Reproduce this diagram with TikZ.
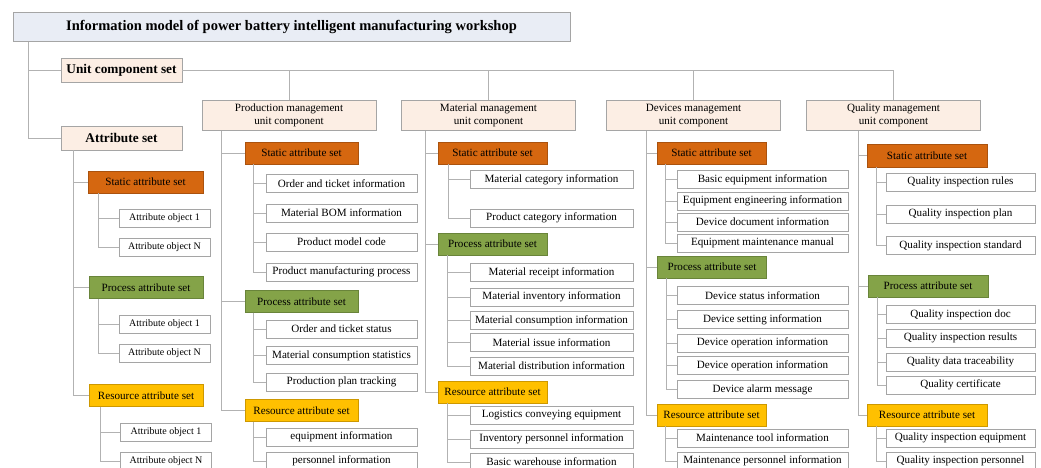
\documentclass[tikz,border=0pt]{standalone}
\usepackage{fontspec}
\setmainfont{Liberation Serif}
\definecolor{linegray}{RGB}{178,178,178}
\definecolor{boxgray}{RGB}{165,165,165}
\definecolor{titlefill}{RGB}{233,237,245}
\definecolor{compfill}{RGB}{252,238,228}
\definecolor{statfill}{RGB}{213,103,16}
\definecolor{statline}{RGB}{170,82,14}
\definecolor{procfill}{RGB}{132,163,72}
\definecolor{procline}{RGB}{105,132,58}
\definecolor{resfill}{RGB}{255,192,0}
\definecolor{resline}{RGB}{205,152,0}
\tikzset{
  link/.style={draw=linegray, line width=0.8pt},
  topbox/.style={draw=boxgray, fill=titlefill, minimum height=29pt, font=\fontsize{14.5}{16}\selectfont\bfseries},
  setbox/.style={draw=boxgray, fill=compfill, minimum width=121pt, minimum height=24pt, font=\fontsize{13.3}{15}\selectfont\bfseries},
  compbox/.style={draw=boxgray, fill=compfill, minimum width=174pt, minimum height=27pt, align=center, font=\fontsize{11.1}{13.3}\selectfont},
  staticset/.style={draw=statline, fill=statfill, minimum height=22pt, inner sep=1pt, font=\fontsize{11.1}{13}\selectfont},
  processset/.style={draw=procline, fill=procfill, minimum height=22pt, inner sep=1pt, font=\fontsize{11.1}{13}\selectfont},
  resourceset/.style={draw=resline, fill=resfill, minimum height=22pt, inner sep=1pt, font=\fontsize{11.1}{13}\selectfont},
  itembox/.style={draw=boxgray, fill=white, minimum height=18pt, inner sep=1pt, font=\fontsize{11.1}{13}\selectfont},
  objbox/.style={itembox, minimum width=91pt, font=\fontsize{10}{12}\selectfont},
}
\begin{document}
\begin{tikzpicture}[x=1pt,y=-1pt]
  \useasboundingbox (0,0) rectangle (1041,467);

  % Title and the two top sets
  \node[topbox, minimum width=557pt] (model) at (291.5,27) {Information model of power battery intelligent manufacturing workshop};
  \node[setbox] (unitset) at (121.5,70) {Unit component set};
  \node[setbox] (attrset) at (121.5,138) {Attribute set};
  \coordinate (mtrunk) at ([xshift=16pt]model.south west);
  \draw[link] (mtrunk) |- (unitset.west) (mtrunk) |- (attrset.west);

  % Unit components
  \node[compbox] (prodcomp) at (289,115.5) {Production management\\unit component};
  \node[compbox] (matcomp) at (488.5,115.5) {Material management\\unit component};
  \node[compbox] (devcomp) at (693.5,115.5) {Devices management\\unit component};
  \node[compbox] (qualcomp) at (893.5,115.5) {Quality management\\unit component};
  \draw[link] (unitset.east) -| (qualcomp.north);
  \draw[link] (prodcomp.north) -- (prodcomp.north |- unitset.east);
  \draw[link] (matcomp.north) -- (matcomp.north |- unitset.east);
  \draw[link] (devcomp.north) -- (devcomp.north |- unitset.east);

  % Attribute set column
  \node[staticset, minimum width=115pt] (ls) at (145.5,182) {Static attribute set};
  \node[objbox] (ls1) at (164.5,218) {Attribute object 1};
  \node[objbox] (ls2) at (164.5,247.5) {Attribute object N};
  \node[processset, minimum width=114pt] (lp) at (146,287.5) {Process attribute set};
  \node[objbox] (lp1) at (164.5,324) {Attribute object 1};
  \node[objbox] (lp2) at (164.5,353.5) {Attribute object N};
  \node[resourceset, minimum width=114pt] (lr) at (146,395.5) {Resource attribute set};
  \node[objbox] (lr1) at (166,432.5) {Attribute object 1};
  \node[objbox] (lr2) at (166,461.5) {Attribute object N};
  \coordinate (atrunk) at ([xshift=13pt]attrset.south west);
  \draw[link] (atrunk) |- (ls.west) (atrunk) |- (lp.west) (atrunk) |- (lr.west);
  \coordinate (lst) at ([xshift=11pt]ls.south west);
  \coordinate (lpt) at ([xshift=10pt]lp.south west);
  \coordinate (lrt) at ([xshift=12pt]lr.south west);
  \draw[link] (lst) |- (ls1.west) (lst) |- (ls2.west);
  \draw[link] (lpt) |- (lp1.west) (lpt) |- (lp2.west);
  \draw[link] (lrt) |- (lr1.west) (lrt) |- (lr2.west);

  % Production management
  \node[staticset, minimum width=113pt] (pst) at (301.5,153) {Static attribute set};
  \node[itembox, minimum width=151pt] (pst1) at (341.5,183.5) {Order and ticket information};
  \node[itembox, minimum width=151pt] (pst2) at (341.5,213) {Material BOM information};
  \node[itembox, minimum width=151pt] (pst3) at (341.5,242) {Product model code};
  \node[itembox, minimum width=151pt] (pst4) at (341.5,272) {Product manufacturing process};
  \node[processset, minimum width=113pt] (ppr) at (301.5,301.5) {Process attribute set};
  \node[itembox, minimum width=151pt] (ppr1) at (341.5,329) {Order and ticket status};
  \node[itembox, minimum width=151pt] (ppr2) at (341.5,355.5) {Material consumption statistics};
  \node[itembox, minimum width=151pt] (ppr3) at (341.5,382) {Production plan tracking};
  \node[resourceset, minimum width=113pt] (prs) at (301.5,410.5) {Resource attribute set};
  \node[itembox, minimum width=151pt] (prs1) at (341.5,437) {equipment information};
  \node[itembox, minimum width=151pt] (prs2) at (341.5,461) {personnel information};
  \coordinate (ptrunk) at ([xshift=20pt]prodcomp.south west);
  \draw[link] (ptrunk) |- (pst.west) (ptrunk) |- (ppr.west) (ptrunk) |- (prs.west);
  \coordinate (pstt) at ([xshift=9pt]pst.south west);
  \coordinate (pprt) at ([xshift=9pt]ppr.south west);
  \coordinate (prst) at ([xshift=9pt]prs.south west);
  \foreach \i in {1,...,4} \draw[link] (pstt) |- (pst\i.west);
  \foreach \i in {1,...,3} \draw[link] (pprt) |- (ppr\i.west);
  \foreach \i in {1,2} \draw[link] (prst) |- (prs\i.west);

  % Material management
  \node[staticset, minimum width=109pt] (mst) at (492.5,153) {Static attribute set};
  \node[itembox, minimum width=163pt] (mst1) at (551.5,179.5) {Material category information};
  \node[itembox, minimum width=163pt] (mst2) at (551.5,218) {Product category information};
  \node[processset, minimum width=109pt] (mpr) at (492.5,244) {Process attribute set};
  \node[itembox, minimum width=163pt] (mpr1) at (551.5,272.5) {Material receipt information};
  \node[itembox, minimum width=163pt] (mpr2) at (551.5,297) {Material inventory information};
  \node[itembox, minimum width=163pt] (mpr3) at (551.5,320.5) {Material consumption information};
  \node[itembox, minimum width=163pt] (mpr4) at (551.5,342.5) {Material issue information};
  \node[itembox, minimum width=163pt] (mpr5) at (551.5,366) {Material distribution information};
  \node[resourceset, minimum width=109pt] (mrs) at (492.5,392) {Resource attribute set};
  \node[itembox, minimum width=163pt] (mrs1) at (551.5,415) {Logistics conveying equipment};
  \node[itembox, minimum width=163pt] (mrs2) at (551.5,439) {Inventory personnel information};
  \node[itembox, minimum width=163pt] (mrs3) at (551.5,462) {Basic warehouse information};
  \coordinate (mtrunk) at ([xshift=24pt]matcomp.south west);
  \draw[link] (mtrunk) |- (mst.west) (mtrunk) |- (mpr.west) (mtrunk) |- (mrs.west);
  \coordinate (mstt) at ([xshift=11pt]mst.south west);
  \coordinate (mprt) at ([xshift=10pt]mpr.south west);
  \coordinate (mrst) at ([xshift=10pt]mrs.south west);
  \foreach \i in {1,2} \draw[link] (mstt) |- (mst\i.west);
  \foreach \i in {1,...,5} \draw[link] (mprt) |- (mpr\i.west);
  \foreach \i in {1,...,3} \draw[link] (mrst) |- (mrs\i.west);

  % Devices management
  \node[staticset, minimum width=109pt] (dst) at (711.5,153) {Static attribute set};
  \node[itembox, minimum width=171pt] (dst1) at (762.5,179.5) {Basic equipment information};
  \node[itembox, minimum width=171pt] (dst2) at (762.5,201) {Equipment engineering information};
  \node[itembox, minimum width=171pt] (dst3) at (762.5,222) {Device document information};
  \node[itembox, minimum width=171pt] (dst4) at (762.5,243) {Equipment maintenance manual};
  \node[processset, minimum width=109pt] (dpr) at (712,267) {Process attribute set};
  \node[itembox, minimum width=171pt] (dpr1) at (762.5,295.5) {Device status information};
  \node[itembox, minimum width=171pt] (dpr2) at (762.5,319.5) {Device setting information};
  \node[itembox, minimum width=171pt] (dpr3) at (762.5,343) {Device operation information};
  \node[itembox, minimum width=171pt] (dpr4) at (762.5,365.5) {Device operation information};
  \node[itembox, minimum width=171pt] (dpr5) at (762.5,389.5) {Device alarm message};
  \node[resourceset, minimum width=109pt] (drs) at (711.5,415) {Resource attribute set};
  \node[itembox, minimum width=171pt] (drs1) at (762.5,438) {Maintenance tool information};
  \node[itembox, minimum width=171pt] (drs2) at (762.5,461) {Maintenance personnel information};
  \coordinate (dtrunk) at ([xshift=40pt]devcomp.south west);
  \draw[link] (dtrunk) |- (dst.west) (dtrunk) |- (dpr.west) (dtrunk) |- (drs.west);
  \coordinate (dstt) at ([xshift=9pt]dst.south west);
  \coordinate (dprt) at ([xshift=9pt]dpr.south west);
  \coordinate (drst) at ([xshift=9pt]drs.south west);
  \foreach \i in {1,...,4} \draw[link] (dstt) |- (dst\i.west);
  \foreach \i in {1,...,5} \draw[link] (dprt) |- (dpr\i.west);
  \foreach \i in {1,2} \draw[link] (drst) |- (drs\i.west);

  % Quality management
  \node[staticset, minimum width=120pt, minimum height=23pt] (qst) at (927,155.5) {Static attribute set};
  \node[itembox, minimum width=149pt] (qst1) at (960.5,182) {Quality inspection rules};
  \node[itembox, minimum width=149pt] (qst2) at (960.5,214) {Quality inspection plan};
  \node[itembox, minimum width=149pt] (qst3) at (960.5,245.5) {Quality inspection standard};
  \node[processset, minimum width=120pt] (qpr) at (928,286) {Process attribute set};
  \node[itembox, minimum width=149pt] (qpr1) at (960.5,314.5) {Quality inspection doc};
  \node[itembox, minimum width=149pt] (qpr2) at (960.5,338) {Quality inspection results};
  \node[itembox, minimum width=149pt] (qpr3) at (960.5,362) {Quality data traceability};
  \node[itembox, minimum width=149pt] (qpr4) at (960.5,385) {Quality certificate};
  \node[resourceset, minimum width=120pt] (qrs) at (927,415) {Resource attribute set};
  \node[itembox, minimum width=149pt] (qrs1) at (960.5,438) {Quality inspection equipment};
  \node[itembox, minimum width=149pt] (qrs2) at (960.5,461) {Quality inspection personnel};
  \coordinate (qtrunk) at ([xshift=52pt]qualcomp.south west);
  \draw[link] (qtrunk) |- (qst.west) (qtrunk) |- (qpr.west) (qtrunk) |- (qrs.west);
  \coordinate (qstt) at ([xshift=10pt]qst.south west);
  \coordinate (qprt) at ([xshift=10pt]qpr.south west);
  \coordinate (qrst) at ([xshift=10pt]qrs.south west);
  \foreach \i in {1,...,3} \draw[link] (qstt) |- (qst\i.west);
  \foreach \i in {1,...,4} \draw[link] (qprt) |- (qpr\i.west);
  \foreach \i in {1,2} \draw[link] (qrst) |- (qrs\i.west);
\end{tikzpicture}
\end{document}
